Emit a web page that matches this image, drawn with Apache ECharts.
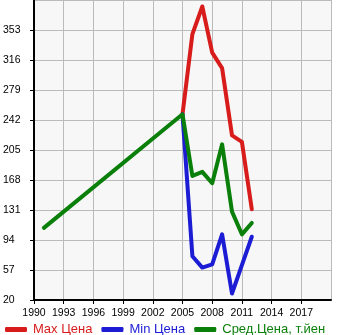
<!DOCTYPE html>
<html>
<head>
<meta charset="utf-8">
<script src="https://cdn.jsdelivr.net/npm/echarts@6/dist/echarts.min.js"></script>
<style>
	html, body { margin: 0; padding: 0; background: #fff; }
	#chart { width: 345px; height: 335px; }
</style>
</head>
<body>
<div id="chart"></div>
<script>
	// годы и цены (т.йен)
	var years = [1991, 2005, 2006, 2007, 2008, 2009, 2010, 2011, 2012];
	var maxPrice = [null, 249, 348, 382, 325, 306, 223, 215, 132];
	var minPrice = [null, 249, 74, 60, 64, 101, 28, 63, 98];
	var avgPrice = [109, 249, 173, 178, 164, 212, 129, 101, 115];
	var seriesNames = ['Max Цена', 'Min Цена', 'Сред.Цена, т.йен'];
	var seriesColors = ['#d81c1c', '#1c1cd4', '#0a7f0a'];

	function pairs(vals) {
		var out = [];
		for (var i = 0; i < years.length; i++) {
			if (vals[i] !== null) out.push([years[i], vals[i]]);
		}
		return out;
	}

	var font = 'Liberation Sans, Arial, sans-serif';
	var allVals = [maxPrice, minPrice, avgPrice];

	var series = seriesNames.map(function (name, i) {
		return {
			name: name,
			type: 'line',
			data: pairs(allVals[i]),
			symbol: 'none',
			color: seriesColors[i],
			lineStyle: { width: 4, cap: 'round', join: 'round', color: seriesColors[i] },
			animation: false
		};
	});

	var chart = echarts.init(document.getElementById('chart'));
	chart.setOption({
		animation: false,
		grid: {
			left: 31, right: 14, top: 0, bottom: 35,
			show: true, backgroundColor: '#f7f7f7', borderWidth: 0
		},
		xAxis: {
			type: 'value', min: 1990, max: 2020, interval: 3,
			axisLine: { show: true, onZero: false, lineStyle: { color: '#000', width: 2 } },
			axisTick: { show: true, length: 4, lineStyle: { color: '#000' } },
			axisLabel: {
				color: '#000', fontSize: 10.5, fontFamily: font, margin: 8,
				showMaxLabel: false,
				formatter: function (v) { return String(v); }
			},
			splitLine: { show: true, lineStyle: { color: '#bbb', width: 1 } }
		},
		yAxis: {
			type: 'value', min: 20, max: 390, interval: 37,
			axisLine: { show: true, onZero: false, lineStyle: { color: '#000', width: 2 } },
			axisTick: { show: true, length: 4, lineStyle: { color: '#000' } },
			axisLabel: {
				color: '#000', fontSize: 10.5, fontFamily: font,
				showMaxLabel: false, align: 'left', margin: 31,
				padding: [0, 0, 8, 0]
			},
			splitLine: { show: true, lineStyle: { color: '#bbb', width: 1 } }
		},
		legend: {
			left: 0, top: 318, itemGap: 9,
			itemWidth: 22, itemHeight: 5, icon: 'roundRect',
			textStyle: { fontSize: 13, fontFamily: font, padding: [0, 0, 0, 1] },
			data: seriesNames.map(function (n, i) {
				return { name: n, textStyle: { color: seriesColors[i] } };
			})
		},
		series: series
	});
</script>
</body>
</html>
